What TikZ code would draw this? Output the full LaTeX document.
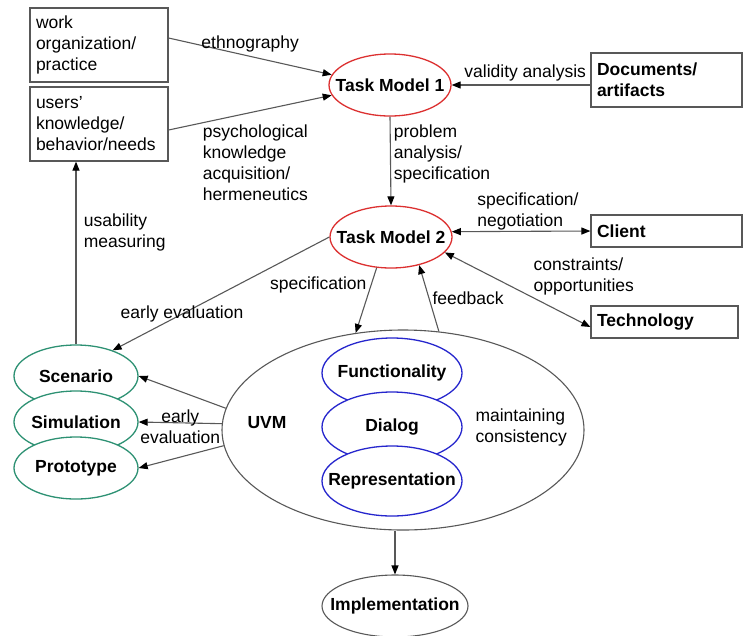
\documentclass[tikz,border=0pt]{standalone}
\usepackage{fontspec}
\setmainfont{Liberation Sans}
\usetikzlibrary{shapes.geometric, arrows.meta, positioning}
\definecolor{taskred}{RGB}{220, 48, 48}
\definecolor{protogreen}{RGB}{45, 145, 115}
\definecolor{uvmblue}{RGB}{38, 38, 205}
\definecolor{linegray}{RGB}{88, 88, 88}
\newcommand{\figfont}{\fontsize{17.5}{21}\selectfont}
\newcommand{\slim}[1]{\makebox[0pt]{#1}}

\begin{document}
\begin{tikzpicture}[
    x=1pt, y=-1pt,
    font=\figfont,
    >={Triangle[length=9pt, width=7pt, color=black]},
    box/.style={
        rectangle, draw=linegray, line width=1.2pt, align=left, inner sep=6pt
    },
    oval/.style={
        ellipse, line width=1.3pt, fill=white, inner sep=0pt, font=\figfont\bfseries
    },
    taskoval/.style={oval, draw=taskred, minimum width=122pt, minimum height=62pt},
    protooval/.style={oval, draw=protogreen, minimum width=124pt, minimum height=62pt},
    uvmoval/.style={oval, draw=uvmblue, minimum width=140pt, minimum height=70pt},
    grayoval/.style={oval, draw=linegray, line width=1.1pt},
    rel/.style={->, line width=1.1pt, draw=linegray},
    birel/.style={<->, line width=1.1pt, draw=linegray},
    lbl/.style={align=left}
]
\useasboundingbox (0,0) rectangle (743,635);

% Sources
\node[box, text width=126pt, minimum height=74pt] (work) at (99,45) {work\\organization/\\practice};
\node[box, text width=126pt, minimum height=74pt] (users) at (99,124) {users'\\knowledge/\\behavior/needs};
\node[box, font=\figfont\bfseries, text width=139pt, minimum height=54pt] (docs) at (666.5,80) {Documents/\\artifacts};
\node[box, font=\figfont\bfseries, text width=139pt, minimum height=32pt] (client) at (666.5,231) {Client};
\node[box, font=\figfont\bfseries, text width=135pt, minimum height=32pt] (tech) at (664.5,322) {Technology};

% Task models
\node[taskoval] (tm1) at (390,85) {\slim{Task Model 1}};
\node[taskoval] (tm2) at (391,237) {\slim{Task Model 2}};

% UVM and its views
\node[grayoval, minimum width=362pt, minimum height=200pt] (uvm) at (403,430) {};
\node[uvmoval] (func) at (392,373) {\slim{Functionality}};
\node[uvmoval] (dialog) at (392,427) {\slim{Dialog}};
\node[uvmoval] (repr) at (392,481) {\slim{Representation}};
\node[font=\figfont\bfseries] (uvmname) at (267,423) {UVM};
\node[lbl, anchor=west] (consist) at (472,427) {maintaining\\consistency};

% Early evaluation
\node[protooval] (scen) at (76,376) {\slim{Scenario}};
\node[protooval] (simu) at (76,422) {\slim{Simulation}};
\node[protooval] (proto) at (76,468) {\slim{Prototype}};

\node[grayoval, minimum width=146pt, minimum height=62pt] (impl) at (395,606) {\slim{Implementation}};

% Relations
\draw[rel] ([yshift=7pt]work.east) -- node[pos=0.5, above] {ethnography} (tm1.170);
\draw[rel] ([yshift=-6pt]users.east) -- node[pos=0.2, anchor=north west, inner sep=1pt, lbl] {psychological\\knowledge\\acquisition/\\hermeneutics} (tm1.190);
\draw[rel] ([yshift=-5pt]docs.west) -- node[pos=0.47, above] {validity analysis} (tm1.east);
\draw[rel] (tm1.south) -- node[pos=0.05, anchor=north west, lbl] {problem\\analysis/\\specification} (tm2.north);
\draw[birel] (tm2.5) -- node[pos=0.55, above, inner sep=1pt, lbl] {specification/\\negotiation} (client.west);
\draw[birel] (tm2.-16) -- node[pos=0.6, anchor=south west, inner sep=1pt, lbl] {constraints/\\opportunities} ([yshift=-5pt]tech.west);
\draw[rel] (tm2.-115) -- node[pos=0.27, left, inner sep=4pt] {specification} (uvm.116);
\draw[rel] (uvm.70) -- node[pos=0.5, right, inner sep=3pt] {feedback} (tm2.-45);
\draw[rel] (tm2.west) -- node[pos=0.68] {early evaluation} (scen.35);
\draw[rel] (scen.north) -- node[pos=0.61, right, xshift=4pt, lbl] {usability\\measuring} (scen.north |- users.south);
\draw[rel] (uvm.173) -- (scen.east);
\draw[rel] (uvm.178) -- node[midway, yshift=-4pt, align=center] {early\\evaluation} (simu.east);
\draw[rel] (uvm.185) -- (proto.east);
\draw[rel] (impl.north |- uvm.south) -- (impl.north);

\end{tikzpicture}
\end{document}
